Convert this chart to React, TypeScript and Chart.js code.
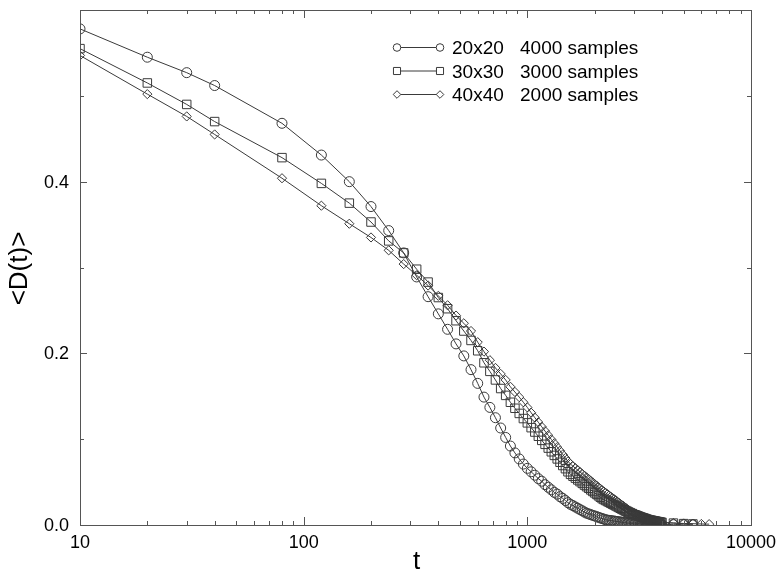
import React, { useEffect, useRef } from "react";
import { Chart, registerables } from "chart.js";

Chart.register(...registerables);

// time steps (shared by all series)
const tSteps = [
  10, 20, 30, 40, 80, 120, 160, 200, 240, 280, 320, 360, 400, 440, 480, 520, 560, 600, 640, 680,
  720, 760, 800, 840, 880, 920, 960, 1000, 1040, 1080, 1120, 1160, 1200, 1240, 1280, 1320, 1360,
  1400, 1440, 1480, 1520, 1560, 1600, 1640, 1680, 1720, 1760, 1800, 1840, 1880, 1920, 1960, 2000,
  2040, 2080, 2120, 2160, 2200, 2240, 2280, 2320, 2360, 2400, 2440, 2480, 2520, 2560, 2600, 2640,
  2680, 2720, 2760, 2800, 2840, 2880, 2920, 2960, 3000, 3040, 3080, 3120, 3160, 3200, 3240, 3280,
  3320, 3360, 3400, 3440, 3480, 3520, 3560, 3600, 3640, 3680, 3720, 3760, 3800, 3840, 3880, 3920,
  3960, 4000,
];

// 20x20, 4000 samples (circles)
const d20 = [
  0.578, 0.545, 0.527, 0.512, 0.468, 0.431, 0.4, 0.371, 0.343, 0.317, 0.289, 0.266, 0.246, 0.228,
  0.211, 0.197, 0.181, 0.165, 0.149, 0.137, 0.125, 0.113, 0.102, 0.092, 0.084, 0.077, 0.071, 0.066,
  0.062, 0.058, 0.054, 0.051, 0.047, 0.044, 0.041, 0.038, 0.036, 0.033, 0.031, 0.0285, 0.026, 0.024,
  0.0226, 0.021, 0.0195, 0.018, 0.0166, 0.0151, 0.0138, 0.0129, 0.0121, 0.0113, 0.0105, 0.0097,
  0.009, 0.0082, 0.0075, 0.0068, 0.0061, 0.0057, 0.0054, 0.0052, 0.0049, 0.0046, 0.0043, 0.0041,
  0.0038, 0.0035, 0.0033, 0.003, 0.0028, 0.0025, 0.0023, 0.0021, 0.002, 0.0019, 0.0019, 0.0018,
  0.0017, 0.0017, 0.0016, 0.0015, 0.0015, 0.0014, 0.0013, 0.0013, 0.0012, 0.0012, 0.0011, 0.0011,
  0.001, 0.001, 0.0009, 0.0009, 0.0008, 0.0008, 0.0007, 0.0007, 0.0006, 0.0006, 0.0006, 0.0005,
  0.0005,
];
const t20Tail = [4500, 5000, 5500];
const d20Tail = [0.0004, 0.0003, 0.0003];

// 30x30, 3000 samples (squares)
const d30 = [
  0.555, 0.515, 0.49, 0.47, 0.428, 0.398, 0.375, 0.353, 0.331, 0.317, 0.298, 0.283, 0.265, 0.252,
  0.238, 0.226, 0.215, 0.203, 0.189, 0.179, 0.169, 0.159, 0.151, 0.143, 0.136, 0.13, 0.124, 0.119,
  0.1134, 0.1083, 0.1034, 0.0986, 0.094, 0.0896, 0.0853, 0.0811, 0.077, 0.0731, 0.0693, 0.0656,
  0.062, 0.059, 0.0568, 0.0546, 0.0525, 0.0505, 0.0485, 0.0465, 0.0446, 0.0428, 0.0409, 0.0391,
  0.0374, 0.0357, 0.034, 0.0323, 0.0307, 0.0296, 0.0285, 0.0274, 0.0264, 0.0254, 0.0243, 0.0234,
  0.0224, 0.0214, 0.0205, 0.0195, 0.0186, 0.0177, 0.0168, 0.0159, 0.0151, 0.0142, 0.0136, 0.0131,
  0.0125, 0.012, 0.0115, 0.011, 0.0105, 0.01, 0.0095, 0.009, 0.0085, 0.0081, 0.0076, 0.0071,
  0.0067, 0.0062, 0.0059, 0.0056, 0.0054, 0.0051, 0.0049, 0.0046, 0.0044, 0.0041, 0.0039, 0.0037,
  0.0034, 0.0032, 0.003,
];
const t30Tail = [4500, 5000, 5500];
const d30Tail = [0.0022, 0.0016, 0.0012];

// 40x40, 2000 samples (diamonds)
const d40 = [
  0.547, 0.502, 0.476, 0.455, 0.404, 0.372, 0.351, 0.335, 0.32, 0.304, 0.291, 0.279, 0.267, 0.256,
  0.244, 0.235, 0.226, 0.213, 0.202, 0.192, 0.183, 0.176, 0.169, 0.161, 0.155, 0.149, 0.143, 0.137,
  0.1308, 0.1251, 0.1197, 0.1144, 0.1094, 0.1045, 0.0997, 0.0951, 0.0907, 0.0864, 0.0821, 0.078,
  0.0741, 0.0709, 0.0685, 0.0662, 0.064, 0.0618, 0.0596, 0.0575, 0.0555, 0.0535, 0.0515, 0.0496,
  0.0477, 0.0459, 0.044, 0.0423, 0.0405, 0.039, 0.0375, 0.0359, 0.0345, 0.033, 0.0316, 0.0302,
  0.0288, 0.0275, 0.0261, 0.0248, 0.0235, 0.0223, 0.021, 0.0198, 0.0185, 0.0173, 0.0165, 0.0157,
  0.015, 0.0143, 0.0135, 0.0128, 0.0121, 0.0115, 0.0108, 0.0101, 0.0094, 0.0088, 0.0082, 0.0075,
  0.0069, 0.0063, 0.0059, 0.0056, 0.0054, 0.0051, 0.0049, 0.0046, 0.0044, 0.0041, 0.0039, 0.0037,
  0.0034, 0.0032, 0.003,
];
const t40Tail = [4500, 5000, 5500, 6000, 6500];
const d40Tail = [0.0024, 0.0018, 0.0015, 0.0012, 0.001];

const sizeLabels = ["20x20", "30x30", "40x40"];
const sampleLabels = ["4000 samples", "3000 samples", "2000 samples"];
const markerStyles = ["circle", "rect", "rectRot"];
const markerRadii = [5, 6, 4.6];
const legendRadii = [3.8, 5, 3.8];

const xMajorTicks = [10, 100, 1000, 10000];
const xTickLabels = ["10", "100", "1000", "10000"];
const xMinorTicks = [
  20, 30, 40, 50, 60, 70, 80, 90, 200, 300, 400, 500, 600, 700, 800, 900, 2000, 3000, 4000, 5000,
  6000, 7000, 8000, 9000,
];
const yMajorTicks = [0, 0.2, 0.4, 0.6];
const yTickLabels = ["0.0", "0.2", "0.4"];
const yMinorTicks = [0.1, 0.3, 0.5];

const FONT = '"Liberation Sans", Arial, Helvetica, sans-serif';
const INK = "#3a3a3a";

function makePoints(ts: number[], vs: number[], tailT: number[], tailV: number[]) {
  const pts = ts.map((t, i) => ({ x: t, y: vs[i] }));
  tailT.forEach((t, i) => pts.push({ x: t, y: tailV[i] }));
  return pts;
}

function drawMarker(ctx: CanvasRenderingContext2D, style: string, x: number, y: number, r: number) {
  ctx.beginPath();
  if (style === "circle") {
    ctx.arc(x, y, r, 0, Math.PI * 2);
  } else if (style === "rect") {
    const s = r * Math.SQRT1_2;
    ctx.rect(x - s, y - s, 2 * s, 2 * s);
  } else {
    ctx.moveTo(x, y - r);
    ctx.lineTo(x + r, y);
    ctx.lineTo(x, y + r);
    ctx.lineTo(x - r, y);
    ctx.closePath();
  }
  ctx.fillStyle = "#fff";
  ctx.fill();
  ctx.stroke();
}

const framePlugin = {
  id: "frame",
  afterDraw(chart: any) {
    const { ctx, chartArea, scales } = chart;
    const { left, right, top, bottom } = chartArea;
    const xs = scales.x;
    const ys = scales.y;
    ctx.save();
    ctx.strokeStyle = "#555";
    ctx.lineWidth = 1;
    ctx.strokeRect(Math.round(left) + 0.5, Math.round(top) + 0.5, Math.round(right - left), Math.round(bottom - top));

    const seg = (x1: number, y1: number, x2: number, y2: number) => {
      ctx.beginPath();
      ctx.moveTo(x1, y1);
      ctx.lineTo(x2, y2);
      ctx.stroke();
    };
    const xTick = (v: number, len: number) => {
      const px = Math.round(xs.getPixelForValue(v)) + 0.5;
      seg(px, bottom, px, bottom - len);
      seg(px, top, px, top + len);
    };
    const yTick = (v: number, len: number) => {
      const py = Math.round(ys.getPixelForValue(v)) + 0.5;
      seg(left, py, left + len, py);
      seg(right, py, right - len, py);
    };
    xMajorTicks.forEach((v) => xTick(v, 8));
    xMinorTicks.forEach((v) => xTick(v, 4));
    yMajorTicks.forEach((v) => yTick(v, 7));
    yMinorTicks.forEach((v) => yTick(v, 4));

    // tick labels
    ctx.fillStyle = "#000";
    ctx.font = `18px ${FONT}`;
    ctx.textAlign = "right";
    ctx.textBaseline = "middle";
    yTickLabels.forEach((lab, i) => {
      ctx.fillText(lab, left - 11, ys.getPixelForValue(yMajorTicks[i]) + 1);
    });
    ctx.textAlign = "center";
    ctx.textBaseline = "alphabetic";
    xTickLabels.forEach((lab, i) => {
      ctx.fillText(lab, xs.getPixelForValue(xMajorTicks[i]), bottom + 23);
    });

    // axis titles
    ctx.font = `26px ${FONT}`;
    ctx.fillText("t", (left + right) / 2 + 1, bottom + 44);
    ctx.save();
    ctx.translate(27, (top + bottom) / 2 + 1);
    ctx.rotate(-Math.PI / 2);
    ctx.textAlign = "center";
    ctx.fillText("<D(t)>", 0, 0);
    ctx.restore();

    // legend
    const rowY = [47.5, 71, 94.5];
    ctx.strokeStyle = INK;
    ctx.lineWidth = 1;
    sizeLabels.forEach((lab, i) => {
      const y = rowY[i];
      seg(397, y, 440, y);
      drawMarker(ctx, markerStyles[i], 397, y, legendRadii[i]);
      drawMarker(ctx, markerStyles[i], 440, y, legendRadii[i]);
      ctx.fillStyle = "#000";
      ctx.font = `19px ${FONT}`;
      ctx.textAlign = "left";
      ctx.textBaseline = "middle";
      ctx.fillText(lab, 452, y + 1.5);
      ctx.fillText(sampleLabels[i], 520, y + 1.5);
    });
    ctx.restore();
  },
};

export default function App() {
  const ref = useRef<HTMLCanvasElement | null>(null);
  useEffect(() => {
    document.body.style.margin = "0";
    const canvas = ref.current;
    if (!canvas) return;
    const series = [
      makePoints(tSteps, d20, t20Tail, d20Tail),
      makePoints(tSteps, d30, t30Tail, d30Tail),
      makePoints(tSteps, d40, t40Tail, d40Tail),
    ];
    const chart = new Chart(canvas, {
      type: "line",
      data: {
        datasets: series.map((pts, i) => ({
          label: `${sizeLabels[i]}   ${sampleLabels[i]}`,
          data: pts,
          borderColor: INK,
          borderWidth: 1,
          backgroundColor: "rgba(255,255,255,0)",
          pointStyle: markerStyles[i] as any,
          pointRadius: markerRadii[i],
          pointBorderColor: INK,
          pointBorderWidth: 1,
          pointBackgroundColor: "rgba(255,255,255,0)",
          tension: 0,
          fill: false,
        })),
      },
      options: {
        animation: false,
        responsive: false,
        devicePixelRatio: 1,
        layout: { padding: { left: 0, right: 29, top: 10, bottom: 0 } },
        plugins: { legend: { display: false }, tooltip: { enabled: false } },
        events: [],
        scales: {
          x: {
            type: "logarithmic",
            min: 10,
            max: 10000,
            grid: { display: false },
            border: { display: false },
            ticks: { display: false },
            afterFit: (s: any) => {
              s.height = 47;
            },
          },
          y: {
            type: "linear",
            min: 0,
            max: 0.6,
            grid: { display: false },
            border: { display: false },
            ticks: { display: false },
            afterFit: (s: any) => {
              s.width = 80;
            },
          },
        },
      },
      plugins: [framePlugin],
    });
    return () => chart.destroy();
  }, []);
  return (
    <div style={{ width: 780, height: 572, background: "#fff" }}>
      <canvas ref={ref} width={780} height={572} style={{ display: "block" }} />
    </div>
  );
}
